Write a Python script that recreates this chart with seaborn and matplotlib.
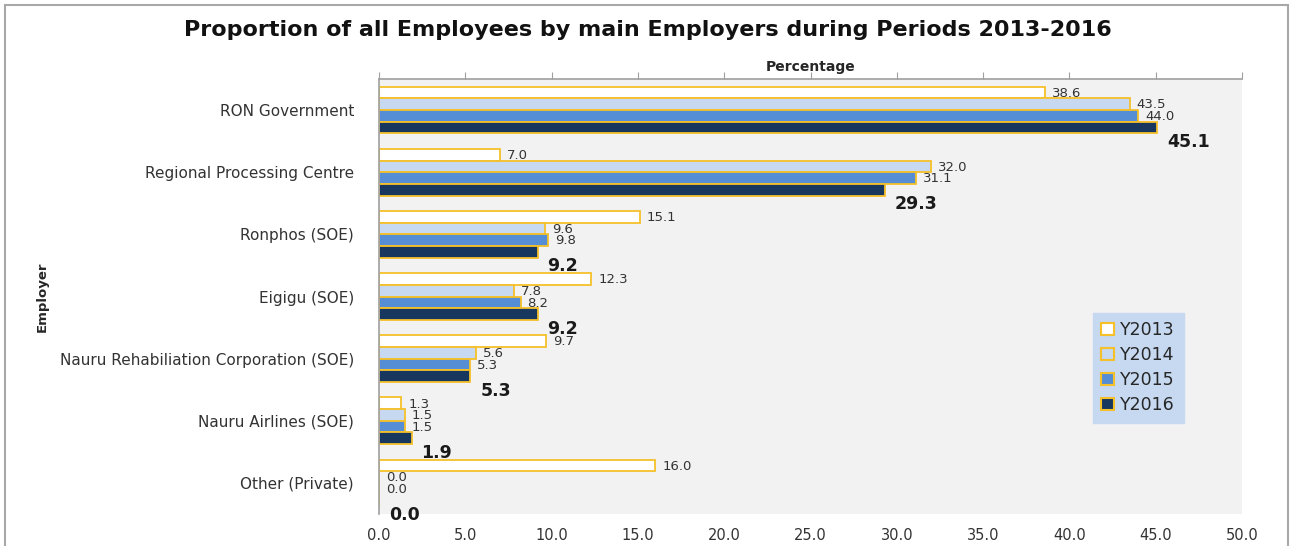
import matplotlib
matplotlib.use("Agg")
import matplotlib.pyplot as plt
import seaborn as sns
import pandas as pd
from matplotlib.patches import Rectangle, Patch

employers = ["RON Government", "Regional Processing Centre", "Ronphos (SOE)",
             "Eigigu (SOE)", "Nauru Rehabiliation Corporation (SOE)",
             "Nauru Airlines (SOE)", "Other (Private)"]
years = ["Y2013", "Y2014", "Y2015", "Y2016"]
y2013 = [38.6, 7.0, 15.1, 12.3, 9.7, 1.3, 16.0]
y2014 = [43.5, 32.0, 9.6, 7.8, 5.6, 1.5, 0.0]
y2015 = [44.0, 31.1, 9.8, 8.2, 5.3, 1.5, 0.0]
y2016 = [45.1, 29.3, 9.2, 9.2, 5.3, 1.9, 0.0]
xticks = [0, 5, 10, 15, 20, 25, 30, 35, 40, 45, 50]

series = [y2013, y2014, y2015, y2016]
rows = []
for yr, vals in zip(years, series):
    for emp, v in zip(employers, vals):
        rows.append({"Employer": emp, "Year": yr, "Value": v})
df = pd.DataFrame(rows)

colors = ["#FFFFFF", "#C6D9F1", "#558ED5", "#17375E"]
edge = "#F5C02A"

sns.set_style("white")
plt.rcParams['font.family'] = ['DejaVu Sans']

fig = plt.figure(figsize=(12.9, 5.46), dpi=100)
ax = fig.add_axes([379/1290, 1 - 514/546, (1242-379)/1290, (514-79)/546])
ax.set_facecolor("#F2F2F2")

sns.barplot(data=df, y="Employer", x="Value", hue="Year", orient="h",
            palette=colors, hue_order=years, order=employers, width=0.75,
            edgecolor=edge, linewidth=1.3, ax=ax, legend=False, saturation=1)

ax.set_xlim(0, 50)
ax.set_ylim(6.5, -0.5)
ax.set_xticks(xticks)
ax.set_xticklabels([f"{t:.1f}" for t in xticks], fontsize=10.5, color="#333333")
ax.tick_params(axis="x", top=True, bottom=False, labeltop=False, labelbottom=True,
               direction="out", length=5, color="#A0A0A0", pad=5)
ax.tick_params(axis="y", length=0, pad=18, labelsize=11, labelcolor="#333333")
ax.xaxis.set_label_position("top")
ax.set_xlabel("Percentage", fontsize=10, fontweight="bold", labelpad=1)
ax.set_ylabel("Employer", fontsize=9.5, fontweight="bold", labelpad=0)
ax.yaxis.set_label_coords(-0.383, 0.5)

for s in ["right", "bottom"]:
    ax.spines[s].set_visible(False)
for s in ["top", "left"]:
    ax.spines[s].set_color("#A0A0A0")
    ax.spines[s].set_linewidth(1.2)

for i, cont in enumerate(ax.containers):
    for bar in cont:
        w = bar.get_width()
        yc = bar.get_y() + bar.get_height() / 2
        if i == 3:
            ax.annotate(f"{w:.1f}", (w, yc), xytext=(7, -10.5), textcoords="offset points",
                        ha="left", va="center", fontsize=12.5, fontweight="bold", color="#1a1a1a")
        else:
            ax.annotate(f"{w:.1f}", (w, yc), xytext=(5, -0.5), textcoords="offset points",
                        ha="left", va="center", fontsize=9.5, color="#333333")

handles = [Patch(facecolor=c, edgecolor=edge, linewidth=1.5) for c in colors]
leg = ax.legend(handles, years, loc="upper left", bbox_to_anchor=((1084-379)/863, 1 - (304-79)/435),
                frameon=True, fontsize=12.5, handlelength=0.7, handleheight=0.7,
                labelspacing=0.4, handletextpad=0.4, borderpad=0.5, fancybox=False)
leg.get_frame().set_facecolor("#C6D9F1")
leg.get_frame().set_edgecolor("#C6D9F1")
leg.get_frame().set_alpha(1)

fig.text(648/1290, 1 - 30/546, "Proportion of all Employees by main Employers during Periods 2013-2016",
         ha="center", va="center", fontsize=16, fontweight="bold", color="#111111")

fig.patches.append(Rectangle((5/1290, -0.1), 1283/1290, 1.1 - 5/546, transform=fig.transFigure,
                             fill=False, edgecolor="#A8A8A8", linewidth=1.5))

fig.savefig("out.png", dpi=100)
